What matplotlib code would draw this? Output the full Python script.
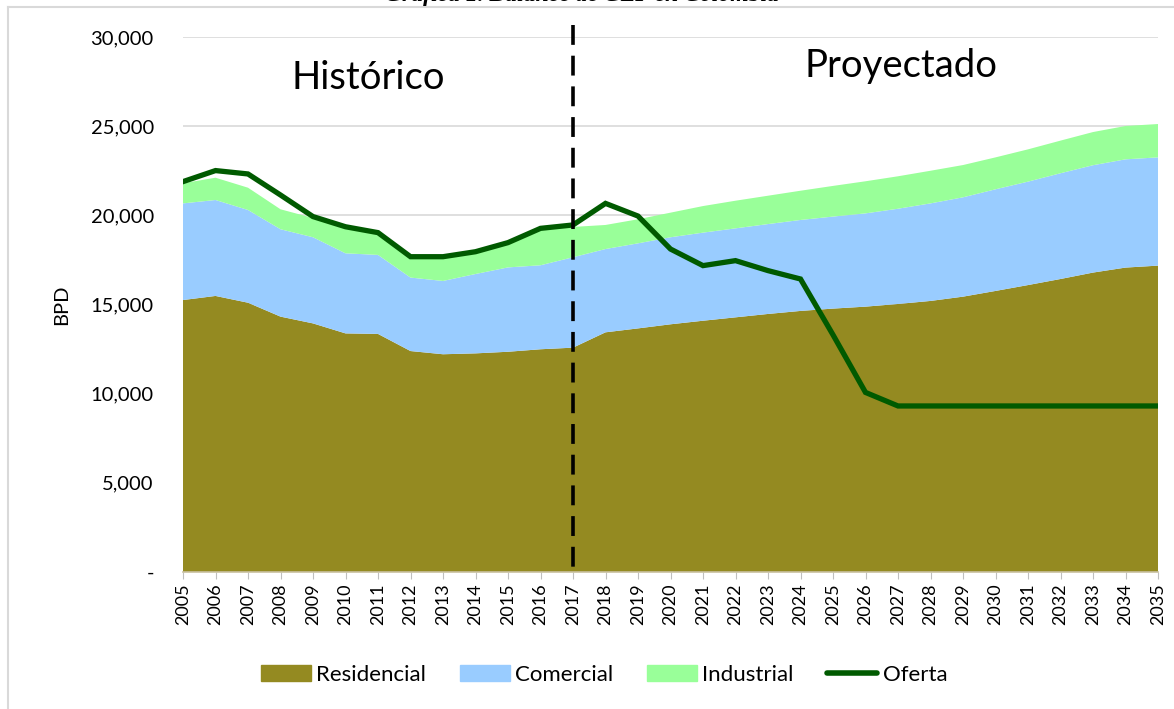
import matplotlib
matplotlib.use("Agg")
import matplotlib.pyplot as plt
from matplotlib.lines import Line2D
import numpy as np

years = list(range(2005, 2036))
residencial = [15250, 15480, 15100, 14320, 13940, 13380, 13350, 12390, 12210, 12260, 12350, 12490, 12580,
               13440, 13660, 13890, 14090, 14280, 14470, 14640, 14770, 14880, 15030, 15200, 15440, 15760,
               16090, 16430, 16790, 17070, 17180]
comercial_top = [20670, 20860, 20300, 19220, 18770, 17870, 17780, 16510, 16320, 16710, 17080, 17200, 17650,
                 18110, 18430, 18770, 19030, 19270, 19510, 19740, 19930, 20110, 20370, 20670, 21010, 21460,
                 21890, 22360, 22810, 23140, 23250]
industrial_top = [21800, 22110, 21550, 20340, 19850, 19300, 18950, 17600, 17600, 17900, 18400, 19200, 19350,
                  19460, 19780, 20150, 20520, 20820, 21100, 21380, 21650, 21910, 22190, 22500, 22820, 23250,
                  23700, 24190, 24670, 25010, 25120]
oferta = [21890, 22510, 22320, 21140, 19930, 19360, 19030, 17680, 17680, 17960, 18470, 19270, 19460,
          20670, 19960, 18110, 17180, 17460, 16900, 16430, 13300, 10070, 9310, 9310, 9310, 9310,
          9310, 9310, 9310, 9310, 9310]
comercial = [c - r for c, r in zip(comercial_top, residencial)]
industrial = [i - c for i, c in zip(industrial_top, comercial_top)]

series_labels = ["Residencial", "Comercial", "Industrial", "Oferta"]
colors = ["#948A21", "#99CCFF", "#99FF99", "#005A00"]
yticks = [0, 5000, 10000, 15000, 20000, 25000, 30000]
ytick_labels = ["-", "5,000", "10,000", "15,000", "20,000", "25,000", "30,000"]
split_year = 2017

plt.rcParams['font.family'] = ['Lato', 'DejaVu Sans']

fig = plt.figure(figsize=(11.74, 7.09), dpi=100)
ax = fig.add_axes([183/1174, 1-572/709, (1158-183)/1174, (572-37)/709])

ax.stackplot(years, residencial, comercial, industrial, colors=colors[:3],
             labels=series_labels[:3], linewidth=0, zorder=2)
ax.plot(years, oferta, color=colors[3], lw=3.8, label=series_labels[3], zorder=4,
        solid_joinstyle='miter')

ax.set_xlim(2005, 2035)
ax.set_ylim(0, 30000)
ax.set_yticks(yticks)
ax.set_yticklabels(ytick_labels, fontsize=14.5)
ax.set_xticks(years)
ax.set_xticklabels([str(y) for y in years], rotation=90, fontsize=13)
ax.tick_params(axis='y', length=0, pad=21)
ax.tick_params(axis='x', length=5, color='#BFBFBF', pad=3)
ax.grid(axis='y', color='#D9D9D9', lw=1.2, zorder=1)
ax.set_axisbelow(True)
for s in ['top', 'right', 'left']:
    ax.spines[s].set_visible(False)
ax.spines['bottom'].set_color('#C8C0A0')
ax.spines['bottom'].set_linewidth(1.2)
ax.spines['bottom'].set_zorder(5)
ax.set_ylabel("BPD", fontsize=14.5, labelpad=15)

ax.plot([split_year, split_year], [30670, 0], color='black', lw=2.6,
        dashes=(5.5, 3), clip_on=False, zorder=6)

ax.text(2010.7, 27700, "Histórico", fontsize=27.5, ha='center', va='center')
ax.text(2027.1, 28400, "Proyectado", fontsize=27.5, ha='center', va='center')

handles = [plt.Rectangle((0, 0), 1, 1, color=c) for c in colors[:3]]
handles.append(Line2D([0], [0], color=colors[3], lw=4, solid_capstyle='round'))
fig.legend(handles, series_labels, loc='center', bbox_to_anchor=(0.5145, 1-675/709),
           ncol=4, frameon=False, fontsize=16, handlelength=2.25, handleheight=0.7,
           columnspacing=1.5, handletextpad=0.25)

# chart frame
fig.add_artist(Line2D([8/1174, 8/1174], [0, 1-7/709], color='#D9D9D9', lw=1.5,
                      transform=fig.transFigure))
fig.add_artist(Line2D([8/1174, 1], [1-7/709, 1-7/709], color='#D9D9D9', lw=1.5,
                      transform=fig.transFigure))
fig.text(0.496, 1-1/709, "Gráfica 1. Balance de GLP en Colombia", fontsize=17,
         family='Liberation Serif', style='italic', weight='bold', ha='center', va='baseline')

fig.savefig("out.png", dpi=100)
